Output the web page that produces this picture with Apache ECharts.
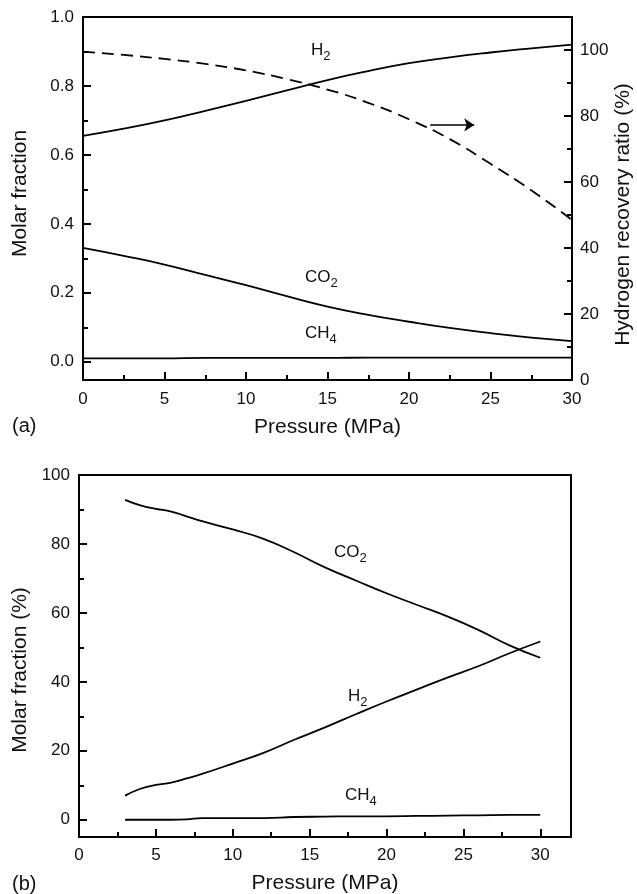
<!DOCTYPE html>
<html>
<head>
<meta charset="utf-8">
<script src="https://cdn.jsdelivr.net/npm/echarts@6/dist/echarts.min.js"></script>
<style>
html,body{margin:0;padding:0;background:#fff;}
#c{width:637px;height:894px;}
</style>
</head>
<body>
<div id="c"></div>
<script>
// ---- Panel (a) data ----
var pressureA = [0, 2.5, 5, 7.5, 10, 12.5, 15, 17.5, 20, 22.5, 25, 27.5, 30];
var h2A = [0.655, 0.676, 0.700, 0.728, 0.757, 0.787, 0.817, 0.843, 0.866, 0.883, 0.897, 0.909, 0.920];
var co2A = [0.330, 0.307, 0.282, 0.252, 0.222, 0.190, 0.160, 0.136, 0.116, 0.098, 0.083, 0.070, 0.060];
var ch4A = [0.010, 0.010, 0.010, 0.011, 0.011, 0.011, 0.011, 0.012, 0.012, 0.012, 0.012, 0.012, 0.012];
var recoveryA = [99.5, 98.5, 97.3, 95.8, 93.8, 91.2, 88.0, 84.0, 79.0, 73.0, 65.5, 57.5, 48.5];
var leftTicksA = [0, 0.2, 0.4, 0.6, 0.8, 1.0];
var leftMinorA = [0.1, 0.3, 0.5, 0.7, 0.9];

// ---- Panel (b) data ----
var pressureB = [3, 4, 5, 6, 7, 8, 10, 12, 14, 16, 18, 20, 22, 24, 26, 28, 30];
var co2B = [92.8, 91.2, 90.2, 89.4, 88.0, 86.6, 84.2, 81.5, 77.6, 73.2, 69.4, 65.7, 62.3, 58.9, 55.0, 50.6, 47.0];
var h2B = [7.0, 9.0, 10.1, 10.8, 12.0, 13.3, 16.3, 19.4, 23.2, 26.8, 30.6, 34.3, 37.8, 41.3, 44.6, 48.3, 51.7];
var ch4B = [0, 0, 0, 0, 0.1, 0.5, 0.5, 0.5, 0.8, 0.9, 1.0, 1.0, 1.1, 1.2, 1.3, 1.4, 1.4];
var leftTicksB = [0, 20, 40, 60, 80, 100];
var leftMinorB = [10, 30, 50, 70, 90];

function pairs(xs, ys) { return xs.map(function (x, i) { return [x, ys[i]]; }); }

var FONT = 'Liberation Sans, Arial, sans-serif';
var axisTxt = { color: '#111', fontSize: 17, fontFamily: FONT };
var nameTxt = { color: '#111', fontSize: 21, fontFamily: FONT };
var tickLine = { color: '#000', width: 2 };

function xAxisCfg(gridIndex, max, gap, margin) {
  return {
    type: 'value', gridIndex: gridIndex, min: 0, max: max, interval: 5,
    name: 'Pressure (MPa)', nameLocation: 'middle', nameGap: gap, nameTextStyle: nameTxt,
    axisLine: { show: true, onZero: false, lineStyle: { color: '#000', width: 2 } },
    axisTick: { show: true, inside: true, length: 8, lineStyle: tickLine },
    minorTick: { show: true, splitNumber: 2, length: 5, lineStyle: tickLine },
    axisLabel: Object.assign({ margin: margin, showMaxLabel: max === 30 }, axisTxt),
    splitLine: { show: false }
  };
}

function minorAxis(gridIndex, min, max, vals) {
  return {
    type: 'value', gridIndex: gridIndex, position: 'left', min: min, max: max,
    axisLine: { show: false, onZero: false },
    axisTick: { show: true, inside: true, length: 5, customValues: vals, lineStyle: tickLine },
    axisLabel: { show: false },
    splitLine: { show: false }
  };
}

var lineCommon = { type: 'line', showSymbol: false, smooth: true, lineStyle: { color: '#000', width: 1.8 }, itemStyle: { color: '#000' } };

function sub(main, s) { return '{n|' + main + '}{s|' + s + '}'; }
var richLab = {
  n: { fontSize: 17, fontFamily: FONT, fill: '#111', color: '#111' },
  s: { fontSize: 13, fontFamily: FONT, fill: '#111', color: '#111', padding: [11, 0, 0, 0] }
};
function lab(x, y, main, s) {
  return { type: 'text', left: x, top: y, style: { text: sub(main, s), rich: richLab, fill: '#111', font: '17px ' + FONT } };
}

var option = {
  animation: false,
  backgroundColor: '#fff',
  grid: [
    { left: 83, top: 17, width: 489, height: 363, outerBoundsMode: 'none', containLabel: false, show: true, borderColor: '#000', borderWidth: 2, backgroundColor: 'transparent' },
    { left: 79, top: 475, width: 492, height: 362, outerBoundsMode: 'none', containLabel: false, show: true, borderColor: '#000', borderWidth: 2, backgroundColor: 'transparent' }
  ],
  xAxis: [xAxisCfg(0, 30, 37, 11), xAxisCfg(1, 32, 36, 10)],
  yAxis: [
    {
      type: 'value', gridIndex: 0, position: 'left', min: -0.053, max: 1.0,
      name: 'Molar fraction', nameLocation: 'middle', nameGap: 52,
      nameTextStyle: Object.assign({ padding: [0, 0, 0, 10] }, nameTxt),
      axisLine: { show: true, onZero: false, lineStyle: { color: '#000', width: 2 } },
      axisTick: { show: true, inside: true, length: 8, customValues: leftTicksA, lineStyle: tickLine },
      axisLabel: Object.assign({ margin: 9, customValues: leftTicksA, formatter: function (v) { return v.toFixed(1); } }, axisTxt),
      splitLine: { show: false }
    },
    {
      type: 'value', gridIndex: 0, position: 'right', min: 0, max: 110, interval: 20,
      name: 'Hydrogen recovery ratio (%)', nameLocation: 'middle', nameGap: 41, nameRotate: 90,
      nameMoveOverlap: false,
      nameTextStyle: Object.assign({ padding: [0, 32, 0, 0] }, nameTxt),
      axisLine: { show: true, onZero: false, lineStyle: { color: '#000', width: 2 } },
      axisTick: { show: true, inside: true, length: 8, lineStyle: tickLine },
      minorTick: { show: true, splitNumber: 2, length: 5, lineStyle: tickLine },
      axisLabel: Object.assign({ margin: 8, showMaxLabel: false }, axisTxt),
      splitLine: { show: false }
    },
    {
      type: 'value', gridIndex: 1, position: 'left', min: -5, max: 100,
      name: 'Molar fraction (%)', nameLocation: 'middle', nameGap: 46,
      nameTextStyle: Object.assign({ padding: [0, 28, 0, 0] }, nameTxt),
      axisLine: { show: true, onZero: false, lineStyle: { color: '#000', width: 2 } },
      axisTick: { show: true, inside: true, length: 8, customValues: leftTicksB, lineStyle: tickLine },
      axisLabel: Object.assign({ margin: 9, customValues: leftTicksB }, axisTxt),
      splitLine: { show: false }
    },
    minorAxis(0, -0.053, 1.0, leftMinorA),
    minorAxis(1, -5, 100, leftMinorB)
  ],
  series: [
    Object.assign({}, lineCommon, { name: 'H2 (a)', xAxisIndex: 0, yAxisIndex: 0, data: pairs(pressureA, h2A) }),
    Object.assign({}, lineCommon, { name: 'CO2 (a)', xAxisIndex: 0, yAxisIndex: 0, data: pairs(pressureA, co2A) }),
    Object.assign({}, lineCommon, { name: 'CH4 (a)', xAxisIndex: 0, yAxisIndex: 0, data: pairs(pressureA, ch4A) }),
    Object.assign({}, lineCommon, {
      name: 'Recovery', xAxisIndex: 0, yAxisIndex: 1, data: pairs(pressureA, recoveryA),
      lineStyle: { color: '#000', width: 1.8, type: [12, 7] },
      markLine: {
        silent: true, symbol: ['none', 'arrow'], symbolSize: 10,
        lineStyle: { color: '#000', width: 1.5, type: 'solid' }, label: { show: false },
        emphasis: { disabled: true },
        data: [[{ coord: [21.3, 77.3] }, { coord: [24.0, 77.3] }]]
      }
    }),
    Object.assign({}, lineCommon, { name: 'CO2 (b)', xAxisIndex: 1, yAxisIndex: 2, data: pairs(pressureB, co2B) }),
    Object.assign({}, lineCommon, { name: 'H2 (b)', xAxisIndex: 1, yAxisIndex: 2, data: pairs(pressureB, h2B) }),
    Object.assign({}, lineCommon, { name: 'CH4 (b)', xAxisIndex: 1, yAxisIndex: 2, data: pairs(pressureB, ch4B) })
  ],
  graphic: [
    lab(311, 42, 'H', '2'),
    lab(305, 269, 'CO', '2'),
    lab(305, 325, 'CH', '4'),
    lab(334, 544, 'CO', '2'),
    lab(348, 688, 'H', '2'),
    lab(345, 787, 'CH', '4'),
    { type: 'text', left: 12, top: 416, style: { text: '(a)', fill: '#111', font: '20px ' + FONT } },
    { type: 'text', left: 12, top: 874, style: { text: '(b)', fill: '#111', font: '20px ' + FONT } }
  ]
};

var chart = echarts.init(document.getElementById('c'), null, { renderer: 'canvas' });
chart.setOption(option);
</script>
</body>
</html>
